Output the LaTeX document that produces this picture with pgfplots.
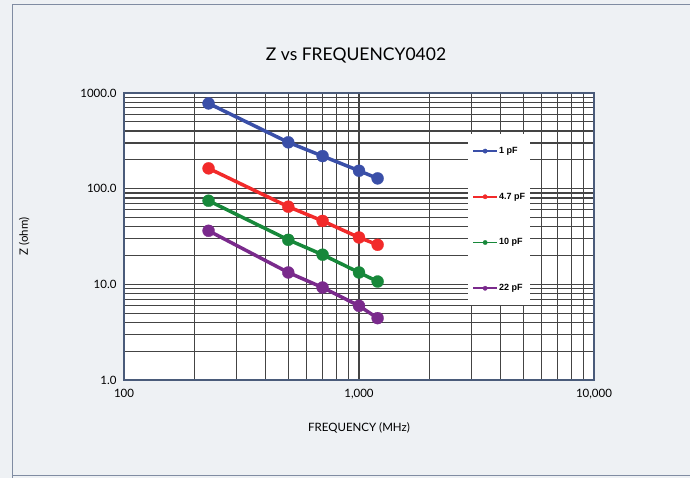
\documentclass[border=0pt]{standalone}
\usepackage{fontspec}
\setmainfont{Lato}
\setsansfont{Liberation Sans}
\usepackage{pgfplots}
\pgfplotsset{compat=1.18}
\definecolor{bgc}{HTML}{EEF1F4}
\definecolor{framec}{HTML}{4A5B7A}
\definecolor{gridc}{HTML}{444444}
\definecolor{cblue}{HTML}{3A4FA8}
\definecolor{cred}{HTML}{F22A2A}
\definecolor{cgreen}{HTML}{17883A}
\definecolor{cpurple}{HTML}{7A2A8C}
\begin{document}
\begin{tikzpicture}
\fill[bgc] (0pt,0pt) rectangle (690pt,478pt);
\begin{scope}
\clip (0pt,0pt) rectangle (690pt,478pt);
\draw[framec!70, line width=1pt] (12pt,-2pt) -- (12pt,473pt) -- (692pt,473pt);
\draw[framec!70, line width=1pt] (12pt,2pt) -- (692pt,2pt);
\end{scope}
\node[font=\fontsize{17.5}{20}\selectfont] at (356pt,423pt) {Z vs FREQUENCY0402};
\begin{axis}[
  at={(124pt,98pt)}, anchor=south west,
  width=470pt, height=287pt, scale only axis,
  xmode=log, ymode=log,
  xmin=100, xmax=10000, ymin=1, ymax=1000,
  axis background/.style={fill=white},
  axis line style={framec, line width=1.6pt},
  grid=both,
  major grid style={gridc, line width=1.2pt},
  minor grid style={gridc, line width=1.2pt},
  tick style={draw=none},
  xtick={100,1000,10000},
  xticklabels={100,{1,000},{10,000}},
  ytick={1,10,100,1000},
  yticklabels={1.0,10.0,100.0,1000.0},
  /pgf/number format/assume math mode=true,
  ticklabel style={font=\fontsize{11.5}{13}\selectfont},
  xticklabel style={yshift=-6pt},
  yticklabel style={xshift=-4pt},
  xlabel={FREQUENCY (MHz)},
  ylabel={Z (ohm)},
  xlabel style={font=\fontsize{11.5}{13}\selectfont, yshift=-16pt},
  ylabel style={font=\fontsize{11.5}{13}\selectfont, yshift=44pt},
  every axis plot/.append style={line width=3.5pt, mark=*, mark size=6pt, mark options={line width=0.3pt}},
  legend style={at={(0.732,0.857)}, anchor=north west, draw=none, fill=white,
    font=\sffamily\bfseries\fontsize{9}{10}\selectfont,
    row sep=34pt, inner xsep=4pt, inner ysep=11pt,
    nodes={inner xsep=1pt}},
  legend cell align=left,
  legend image code/.code={\draw[#1, line width=1.8pt, mark size=2.2pt, mark repeat=2, mark phase=2] plot coordinates {(0pt,0pt) (12pt,0pt) (24pt,0pt)};},
]
\addplot[cblue] coordinates {(229,778) (500,305) (700,219) (1000,154) (1200,128)};
\addlegendentry{1 pF}
\addplot[cred] coordinates {(229,163) (500,64.8) (700,46) (1000,30.9) (1200,25.9)};
\addlegendentry{4.7 pF}
\addplot[cgreen] coordinates {(229,74.8) (500,29.2) (700,20.4) (1000,13.3) (1200,10.7)};
\addlegendentry{10 pF}
\addplot[cpurple] coordinates {(229,36.3) (500,13.3) (700,9.26) (1000,5.96) (1200,4.43)};
\addlegendentry{22 pF}
\end{axis}
\end{tikzpicture}
\end{document}
